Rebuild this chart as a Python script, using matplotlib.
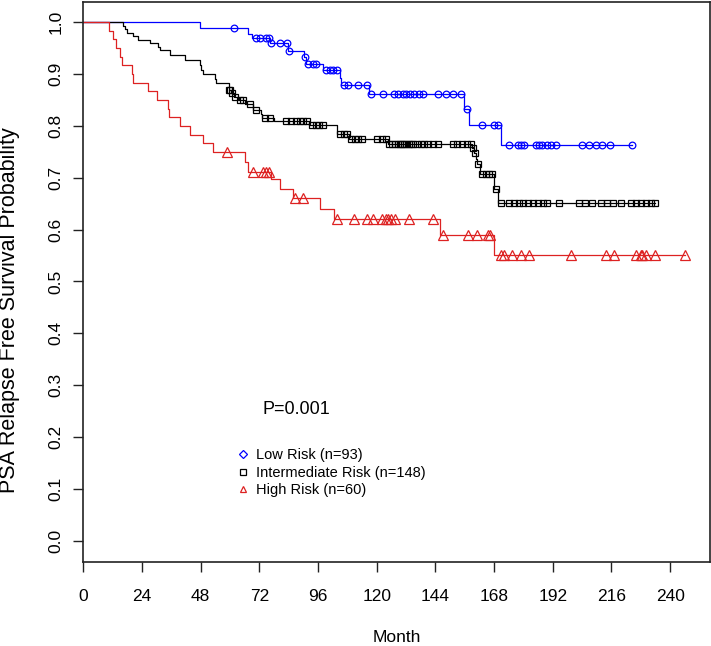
import numpy as np
import matplotlib
matplotlib.use("Agg")
import matplotlib.pyplot as plt
from matplotlib.lines import Line2D

plt.rcParams['font.family'] = ['Liberation Sans', 'DejaVu Sans']

# ---- data ----
# Low risk: step times (months) and survival after each step
low_t = [0, 47.6, 67.3, 68.8, 76.2, 83.6, 90.2, 91.2, 98.0, 104.8, 105.5, 116.7, 155.8, 157.8, 170.8]
low_s = [1.0, 0.989, 0.978, 0.970, 0.959, 0.945, 0.933, 0.920, 0.907, 0.892, 0.878, 0.862, 0.833, 0.801, 0.764]
low_cens = [61.5, 70.8, 72.1, 74.9, 75.9, 76.9, 80.3, 83.3, 84.2, 90.6, 91.8, 93.9, 95.3, 99.3, 100.7,
            102.0, 103.7, 106.5, 108.2, 112.2, 115.9, 117.7, 122.7, 127.2, 128.6, 130.6, 132.0, 133.6,
            135.4, 137.4, 139.0, 144.9, 148.3, 151.0, 154.4, 157.0, 163.0, 168.0, 169.8, 174.2, 177.6,
            179.0, 180.3, 185.1, 186.4, 187.8, 189.8, 191.2, 193.2, 204.1, 206.8, 209.5, 212.2, 215.3, 224.5]

# Intermediate risk
mid_t = [0, 16.3, 17.0, 17.7, 20.5, 22.4, 27.2, 30.6, 31.3, 35.4, 41.5, 47.6, 48.3, 49.0, 53.8, 54.4,
         59.4, 60.6, 61.5, 63.5, 66.0, 69.3, 72.5, 73.2, 78.0, 92.5, 103.7, 108.5, 124.5, 159.0, 159.8,
         160.5, 161.2, 162.3, 168.0, 169.4]
mid_s = [1.0, 0.993, 0.986, 0.980, 0.973, 0.966, 0.959, 0.953, 0.946, 0.936, 0.927, 0.917, 0.907, 0.901,
         0.891, 0.882, 0.870, 0.863, 0.856, 0.849, 0.842, 0.830, 0.823, 0.816, 0.809, 0.801, 0.785, 0.775,
         0.766, 0.757, 0.747, 0.737, 0.727, 0.708, 0.679, 0.652]
mid_cens = [59.6, 60.2, 61.0, 62.2, 64.2, 65.3, 68.0, 70.5, 74.5, 76.5, 83.0, 85.0, 86.8, 88.5, 90.0, 91.5,
            93.5, 95.0, 96.5, 98.2, 105.0, 106.5, 107.8, 109.5, 111.0, 112.5, 114.0, 120.0, 122.0, 123.8,
            125.2, 126.3, 127.5, 128.5, 129.5, 130.3, 131.0, 132.0, 133.0, 134.0, 135.0, 136.5, 138.0,
            139.2, 141.0, 143.0, 145.0, 151.0, 153.0, 155.0, 157.0, 158.5, 159.4, 160.1, 161.6, 163.0,
            164.5, 166.0, 167.2, 168.6, 170.8, 174.2, 176.0, 178.0, 180.0, 182.0, 184.0, 186.0, 188.0,
            189.7, 194.6, 202.7, 205.0, 208.0, 211.6, 214.0, 216.5, 219.8, 223.8, 226.0, 228.0, 230.0,
            232.0, 234.0]

# High risk
high_t = [0, 10.6, 12.2, 13.3, 15.2, 15.7, 20.0, 20.4, 26.5, 30.0, 34.8, 35.1, 39.5, 43.5, 49.0, 53.0,
          66.0, 67.4, 76.9, 80.3, 85.7, 96.6, 102.7, 146.0, 167.8]
high_s = [1.0, 0.983, 0.967, 0.950, 0.933, 0.917, 0.900, 0.883, 0.867, 0.850, 0.833, 0.817, 0.800, 0.783,
          0.767, 0.750, 0.731, 0.711, 0.698, 0.679, 0.660, 0.640, 0.621, 0.589, 0.550]
high_cens = [58.6, 69.3, 73.5, 74.6, 75.8, 86.4, 89.8, 103.7, 110.9, 115.9, 118.4, 122.0, 123.8, 124.5,
             125.8, 127.5, 133.0, 143.1, 147.0, 157.2, 161.2, 165.6, 166.2, 170.8, 172.1, 175.5, 178.9,
             182.3, 199.3, 213.6, 217.0, 225.9, 227.9, 228.6, 230.0, 234.0, 246.0]

labels = ["Low Risk (n=93)", "Intermediate Risk (n=148)", "High Risk (n=60)"]
colors = ["#0000FF", "#000000", "#DD2222"]
markers = ["o", "s", "^"]
msizes = [4.8, 4.4, 7.0]
legend_msizes = [3.6, 3.8, 5.0]
legend_markers = ["D", "s", "^"]

xticks = list(range(0, 241, 24))
yticks = [i / 10 for i in range(11)]
ytick_labels = ["%.1f" % v for v in yticks]

W, H = 711, 646
fig = plt.figure(figsize=(W / 100, H / 100), dpi=100)
L, R, T, B = 83.3, 709.5, 1.5, 562.3
ax = fig.add_axes([L / W, 1 - B / H, (R - L) / W, (B - T) / H])

groups = [(low_t, low_s, low_cens), (mid_t, mid_s, mid_cens), (high_t, high_s, high_cens)]
for (t, s, c), col, mk, ms in zip(groups, colors, markers, msizes):
    t = np.asarray(t); s = np.asarray(s); c = np.asarray(c)
    tt = np.append(t, c.max())
    ss = np.append(s, s[-1])
    ax.step(tt, ss, where='post', color=col, lw=0.9)
    idx = np.searchsorted(t, c, side='right') - 1
    ax.plot(c, s[idx], ls='none', marker=mk, ms=ms, mfc='none', mec=col, mew=0.9)

ax.set_xlim(0, 256.1)
ax.set_ylim(-0.042, 1.040)
ax.set_xticks(xticks)
ax.set_yticks(yticks)
ax.set_yticklabels(ytick_labels)
ax.tick_params(axis='both', direction='out', length=7.5, width=1.0, labelsize=12.5, color='#222222')
ax.tick_params(axis='x', pad=12)
ax.tick_params(axis='y', pad=7)
plt.setp(ax.get_yticklabels(), rotation=90, va='center')
for sp in ax.spines.values():
    sp.set_linewidth(1.2)
    sp.set_color('#222222')

fig.text(396.5 / W, 1 - 638 / H, "Month", ha='center', va='center', fontsize=12.5)
fig.text(10 / W, 1 - 310 / H, "PSA Relapse Free Survival Probability", rotation=90,
         ha='center', va='center', fontsize=15.5)
fig.text(263 / W, 1 - 409 / H, "P=0.001", ha='left', va='center', fontsize=13)

handles = [Line2D([], [], ls='none', marker=m, ms=ms, mfc='none', mec=c, mew=0.9)
           for m, ms, c in zip(legend_markers, legend_msizes, colors)]
ax.legend(handles, labels, loc='upper left', bbox_to_anchor=(236 / W, 1 - 448 / H),
          bbox_transform=fig.transFigure, frameon=False, fontsize=10.5, handlelength=1.0,
          handletextpad=0.4, labelspacing=0.25, borderpad=0, borderaxespad=0)

fig.savefig("out.png", dpi=100)
